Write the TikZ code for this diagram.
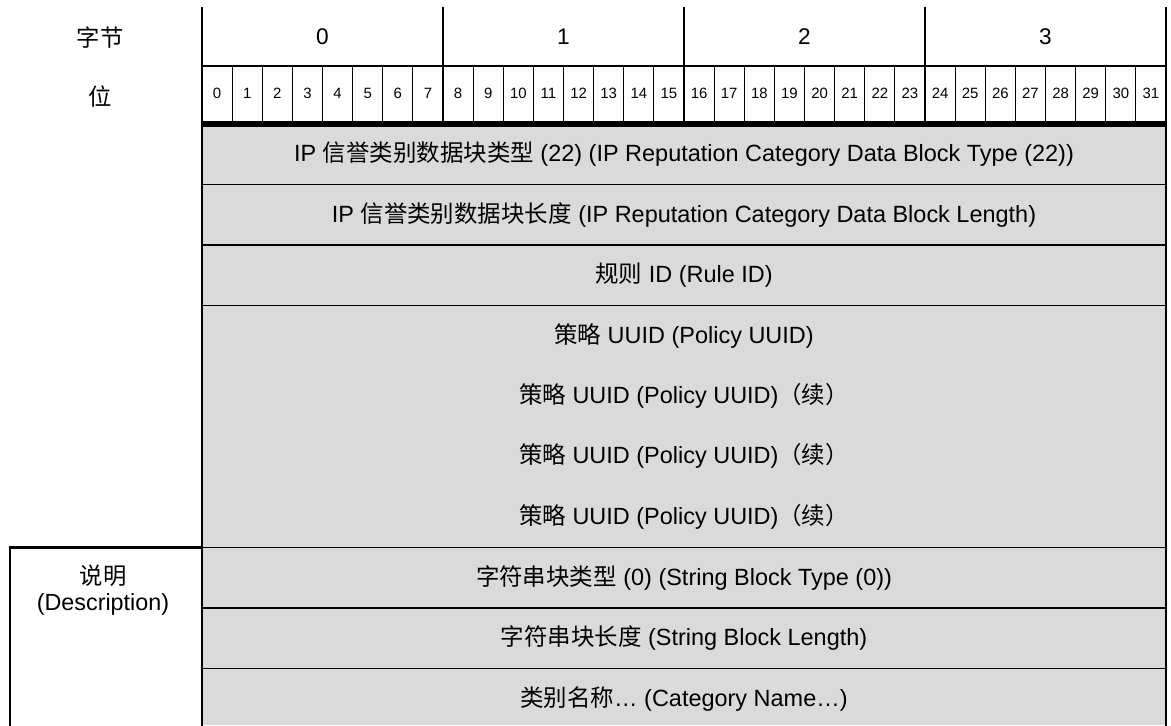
\documentclass[tikz,border=0pt]{standalone}
\usepackage{fontspec}
\setmainfont{Liberation Sans}
\newfontfamily\cjk{Noto Sans CJK SC}
\newcommand{\zh}[1]{{\cjk #1}}
\definecolor{cellgray}{HTML}{DADADA}
\begin{document}
\begin{tikzpicture}[x=0.75pt,y=-0.75pt,
  rowtext/.style={font=\fontsize{17.6}{19}\selectfont, inner sep=0pt, anchor=center},
  bytetext/.style={font=\fontsize{17}{19}\selectfont, inner sep=0pt, anchor=center},
  bittext/.style={font=\fontsize{11.2}{13}\selectfont, inner sep=0pt, anchor=center},
  outer/.style={line width=1.6pt, line cap=rect},
  inner/.style={line width=1.1pt},
  bitline/.style={line width=0.7pt},
  thickline/.style={line width=3.8pt}]
\useasboundingbox (0,0) rectangle (1171,725);
% gray fill of data rows
\fill[cellgray] (202,124) rectangle (1166,725);
% row separators
\foreach \yy in {184.5,245,305.5,547.5,608,668.5}
  \draw[inner] (202,\yy) -- (1166,\yy);
% bit dividers
\foreach \i in {1,...,31}{
  \pgfmathtruncatemacro{\r}{mod(\i,8)}
  \ifnum\r=0\relax\else
    \draw[bitline] ({202+30.125*\i},66) -- ({202+30.125*\i},124);
  \fi}
% byte dividers
\foreach \xx in {443,684,925}
  \draw[outer] (\xx,8) -- (\xx,124);
% header horizontal line
\draw[outer] (202,66) -- (1166,66);
% thick line
\draw[thickline] (201,124) -- (1167,124);
% table sides
\draw[outer] (202,8) -- (202,726);
\draw[outer] (1166,8) -- (1166,726);
% description box
\draw[outer] (10,726) -- (10,547.5) -- (202,547.5);

% header labels
\node[bytetext, font=\fontsize{17.5}{19}\selectfont] (lbyte) at (100,38) {\zh{字节}};
\node[bytetext, font=\fontsize{17.5}{19}\selectfont] (lbit) at (100,97) {\zh{位}};
\foreach \b in {0,...,3}
  \node[bytetext] (byte\b) at ({322.5+241*\b},37) {\b};
\foreach \i in {0,...,31}
  \node[bittext] (bit\i) at ({217.06+30.125*\i},93) {\i};

% row texts
\node[rowtext] (r1) at (684,154) {IP \zh{信誉类别数据块类型} (22) (IP Reputation Category Data Block Type (22))};
\node[rowtext] (r2) at (684,215) {IP \zh{信誉类别数据块长度} (IP Reputation Category Data Block Length)};
\node[rowtext] (r3) at (684,275) {\zh{规则} ID (Rule ID)};
\node[rowtext] (r4) at (684,336) {\zh{策略} UUID (Policy UUID)};
\node[rowtext] (r5) at (684,396) {\zh{策略} UUID (Policy UUID)\zh{（续）}};
\node[rowtext] (r6) at (684,456) {\zh{策略} UUID (Policy UUID)\zh{（续）}};
\node[rowtext] (r7) at (684,517) {\zh{策略} UUID (Policy UUID)\zh{（续）}};
\node[rowtext] (r8) at (684,578) {\zh{字符串块类型} (0) (String Block Type (0))};
\node[rowtext] (r9) at (684,638) {\zh{字符串块长度} (String Block Length)};
\node[rowtext] (r10) at (684,699) {\zh{类别名称}… (Category Name…)};
\node[rowtext, align=center, font=\fontsize{17.5}{19}\selectfont] (desc) at (103,590) {\zh{说明}\\(Description)};
\end{tikzpicture}
\end{document}
